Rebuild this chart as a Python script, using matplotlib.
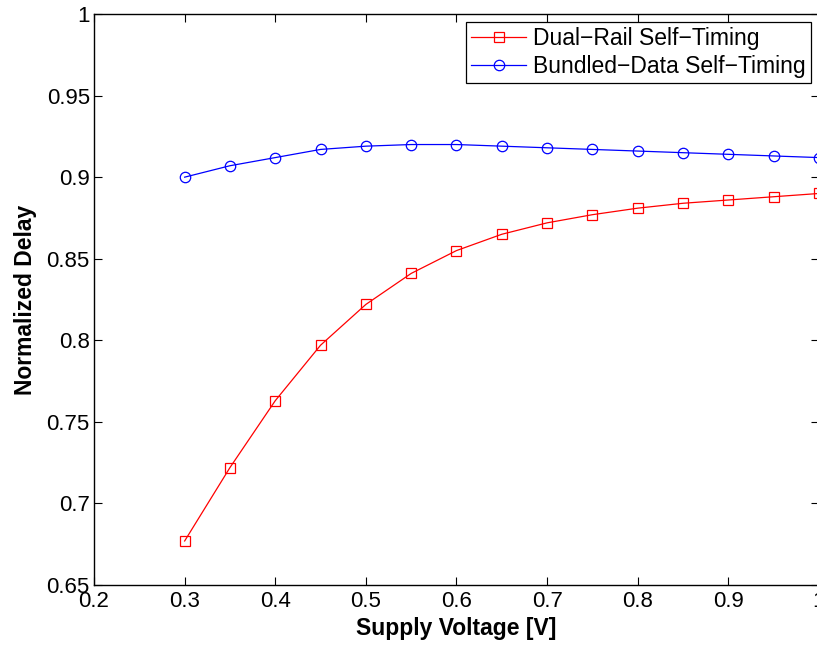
import matplotlib
matplotlib.use("Agg")
import matplotlib.pyplot as plt

voltage = [0.30, 0.35, 0.40, 0.45, 0.50, 0.55, 0.60, 0.65, 0.70, 0.75, 0.80, 0.85, 0.90, 0.95, 1.00]
dual_rail = [0.677, 0.722, 0.763, 0.797, 0.822, 0.841, 0.855, 0.865, 0.872, 0.877, 0.881, 0.884, 0.886, 0.888, 0.890]
bundled = [0.900, 0.907, 0.912, 0.917, 0.919, 0.920, 0.920, 0.919, 0.918, 0.917, 0.916, 0.915, 0.914, 0.913, 0.912]

xticks = [0.2, 0.3, 0.4, 0.5, 0.6, 0.7, 0.8, 0.9, 1.0]
xticklabels = ["0.2", "0.3", "0.4", "0.5", "0.6", "0.7", "0.8", "0.9", "1"]
yticks = [0.65, 0.7, 0.75, 0.8, 0.85, 0.9, 0.95, 1.0]
yticklabels = ["0.65", "0.7", "0.75", "0.8", "0.85", "0.9", "0.95", "1"]

plt.rcParams['font.family'] = ['Liberation Sans', 'DejaVu Sans']

fig = plt.figure(figsize=(8.17, 6.46), dpi=100)
ax = fig.add_axes([0.1151, 0.0944, 0.8873, 0.8839])

ax.plot(voltage, dual_rail, color='red', lw=0.9, marker='s', markersize=6.5,
        markerfacecolor='none', markeredgecolor='red', markeredgewidth=0.9,
        label='Dual\u2212Rail Self\u2212Timing', clip_on=False)
ax.plot(voltage, bundled, color='blue', lw=0.9, marker='o', markersize=7.5,
        markerfacecolor='none', markeredgecolor='blue', markeredgewidth=0.9,
        label='Bundled\u2212Data Self\u2212Timing', clip_on=False)

ax.set_xlim(0.2, 1.0)
ax.set_ylim(0.65, 1.0)
ax.set_xticks(xticks)
ax.set_xticklabels(xticklabels)
ax.set_yticks(yticks)
ax.set_yticklabels(yticklabels)
ax.tick_params(direction='in', top=True, right=True, labelsize=16, length=6, width=0.8)
ax.tick_params(axis='x', pad=4)
ax.tick_params(axis='y', pad=3)
for s in ax.spines.values():
    s.set_linewidth(1.0)

ax.set_xlabel('Supply Voltage [V]', fontsize=16.5, fontweight='bold', labelpad=4)
ax.set_ylabel('Normalized Delay', fontsize=16.5, fontweight='bold', labelpad=7)

leg = ax.legend(loc='upper right', bbox_to_anchor=(1.0, 1.0), fontsize=16.5,
                fancybox=False, edgecolor='black', framealpha=1, handlelength=2.4,
                borderpad=0.22, labelspacing=0.22, handletextpad=0.3, borderaxespad=0.35)
leg.get_frame().set_linewidth(0.9)

fig.savefig('out.png', dpi=100)
